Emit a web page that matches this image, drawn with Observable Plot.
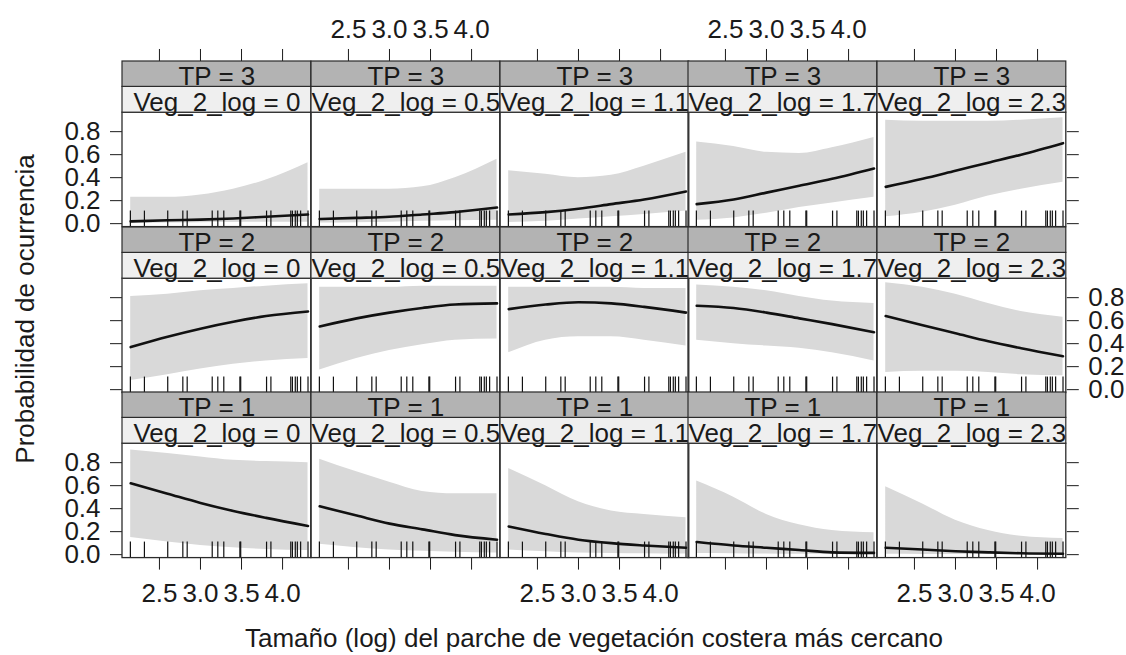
<!DOCTYPE html>
<html><head><meta charset="utf-8">
<script src="https://cdn.jsdelivr.net/npm/d3@7"></script>
<script src="https://cdn.jsdelivr.net/npm/@observablehq/plot@0.6"></script>
<style>
html,body{margin:0;padding:0;background:#fff;}
#chart{position:relative;width:1126px;height:655px;overflow:hidden;font-family:"Liberation Sans",Arial,sans-serif;color:#1a1a1a;}
#chart svg{max-width:none !important;}
#chart svg text{font-family:"Liberation Sans",Arial,sans-serif;}
.panel{position:absolute;}
.title{position:absolute;font-size:26px;line-height:26px;white-space:nowrap;text-align:center;}
</style></head><body><div id="chart"></div>
<script>
// ---- data ----
const xTicks = [2.5, 3.0, 3.5, 4.0];
const yTicks = [0, 0.2, 0.4, 0.6, 0.8];
const tpLevels = [3, 2, 1];
const vegLevels = ["0", "0.5", "1.1", "1.7", "2.3"];
const xGrid = [2.15, 2.6, 3.0, 3.4, 3.8, 4.31];
const rugX = [2.146, 2.317, 2.601, 2.785, 2.838, 3.143, 3.211, 3.284, 3.48, 3.49, 3.805, 3.858, 4.10, 4.12, 4.155, 4.18, 4.22, 4.31];

const fitTP3 = [
  [0.02, 0.03, 0.035, 0.045, 0.06, 0.08],
  [0.04, 0.05, 0.06, 0.08, 0.10, 0.14],
  [0.08, 0.10, 0.13, 0.17, 0.21, 0.28],
  [0.17, 0.21, 0.27, 0.33, 0.39, 0.48],
  [0.32, 0.39, 0.46, 0.53, 0.60, 0.70]];
const upperTP3 = [
  [0.23, 0.23, 0.25, 0.30, 0.38, 0.53],
  [0.30, 0.30, 0.30, 0.32, 0.40, 0.56],
  [0.46, 0.43, 0.40, 0.42, 0.50, 0.62],
  [0.71, 0.67, 0.62, 0.61, 0.66, 0.75],
  [0.90, 0.89, 0.89, 0.89, 0.90, 0.92]];
const lowerTP3 = [
  [0.003, 0.005, 0.008, 0.01, 0.012, 0.012],
  [0.005, 0.008, 0.012, 0.02, 0.025, 0.03],
  [0.01, 0.02, 0.04, 0.06, 0.08, 0.11],
  [0.03, 0.05, 0.09, 0.14, 0.18, 0.23],
  [0.06, 0.10, 0.16, 0.24, 0.30, 0.36]];

const fitTP2 = [
  [0.37, 0.46, 0.53, 0.59, 0.64, 0.68],
  [0.55, 0.62, 0.67, 0.71, 0.74, 0.75],
  [0.70, 0.74, 0.76, 0.75, 0.72, 0.67],
  [0.73, 0.71, 0.67, 0.62, 0.57, 0.50],
  [0.64, 0.56, 0.49, 0.42, 0.36, 0.29]];
const upperTP2 = [
  [0.81, 0.83, 0.86, 0.88, 0.90, 0.92],
  [0.89, 0.89, 0.89, 0.90, 0.90, 0.90],
  [0.89, 0.89, 0.89, 0.89, 0.88, 0.88],
  [0.91, 0.89, 0.86, 0.81, 0.77, 0.75],
  [0.93, 0.89, 0.83, 0.75, 0.68, 0.63]];
const lowerTP2 = [
  [0.08, 0.13, 0.18, 0.22, 0.25, 0.27],
  [0.17, 0.27, 0.34, 0.39, 0.43, 0.44],
  [0.32, 0.43, 0.46, 0.46, 0.43, 0.38],
  [0.43, 0.40, 0.38, 0.36, 0.32, 0.25],
  [0.15, 0.16, 0.16, 0.15, 0.13, 0.12]];

const fitTP1 = [
  [0.62, 0.53, 0.45, 0.38, 0.32, 0.25],
  [0.42, 0.34, 0.27, 0.22, 0.17, 0.13],
  [0.245, 0.18, 0.13, 0.10, 0.08, 0.06],
  [0.11, 0.08, 0.06, 0.04, 0.02, 0.015],
  [0.06, 0.045, 0.03, 0.02, 0.012, 0.008]];
const upperTP1 = [
  [0.91, 0.88, 0.85, 0.82, 0.81, 0.80],
  [0.83, 0.72, 0.63, 0.55, 0.53, 0.53],
  [0.75, 0.60, 0.46, 0.38, 0.35, 0.32],
  [0.64, 0.50, 0.35, 0.26, 0.21, 0.19],
  [0.59, 0.44, 0.30, 0.21, 0.16, 0.14]];
const lowerTP1 = [
  [0.15, 0.11, 0.08, 0.06, 0.045, 0.035],
  [0.09, 0.06, 0.04, 0.03, 0.02, 0.015],
  [0.04, 0.025, 0.015, 0.01, 0.008, 0.005],
  [0.01, 0.008, 0.005, 0.003, 0.002, 0.001],
  [0.003, 0.002, 0.002, 0.001, 0.001, 0.001]];

const xTitle = "Tamaño (log) del parche de vegetación costera más cercano";
const yTitle = "Probabilidad de ocurrencia";

// ---- layout ----
const fits = [fitTP3, fitTP2, fitTP1];
const uppers = [upperTP3, upperTP2, upperTP1];
const lowers = [lowerTP3, lowerTP2, lowerTP1];

const L0 = 122, T0 = 61, cellW = 188.8, cellH = 165.6;
const tpH = 25.4, vegH = 25.8;
const plotH = cellH - tpH - vegH;
const xDom = [2.05, 4.35];
const yLo = -0.03, yHi = 0.965;
const k = plotH / (yHi - yLo);
const yVegTop = yHi + vegH / k;
const yTop = yVegTop + tpH / k;
const rugTop = yLo + 16 / k;
const xMid = (xDom[0] + xDom[1]) / 2;
const M = {l: 70, r: 70, t: 60, b: 60};
const FONT = "'Liberation Sans', Arial, sans-serif";

const chart = document.getElementById("chart");
const fmt = d => d.toFixed(1);
const blank = () => "";

tpLevels.forEach((tp, r) => {
  vegLevels.forEach((veg, c) => {
    const data = xGrid.map((x, i) => ({x, fit: fits[r][c][i], lo: lowers[r][c][i], hi: uppers[r][c][i]}));
    const xAxis = r === 0 ? "top" : r === 2 ? "bottom" : null;
    const xLab = (r === 0 && c % 2 === 1) || (r === 2 && c % 2 === 0);
    const yAxis = c === 0 ? "left" : c === 4 ? "right" : null;
    const yLab = (c === 0 && r !== 1) || (c === 4 && r === 1);
    const W = cellW + M.l + M.r, H = cellH + M.t + M.b;
    const svg = Plot.plot({
      width: W,
      height: H,
      marginLeft: M.l, marginRight: M.r, marginTop: M.t, marginBottom: M.b,
      style: {background: "transparent", overflow: "visible", fontSize: "26px", fontFamily: FONT, color: "#1a1a1a", maxWidth: "none"},
      x: {domain: xDom, axis: xAxis, ticks: xTicks, tickSize: r === 0 ? 13 : 12, tickPadding: r === 0 ? 10 : 13,
          tickFormat: xLab ? fmt : blank, label: null},
      y: {domain: [yLo, yTop], axis: yAxis, ticks: yTicks, tickSize: 12, tickPadding: 10,
          tickFormat: yLab ? fmt : blank, label: null},
      marks: [
        Plot.areaY(data, {x: "x", y1: "lo", y2: "hi", fill: "#d9d9d9", curve: "monotone-x"}),
        Plot.line(data, {x: "x", y: "fit", stroke: "#111", strokeWidth: 2.6, curve: "monotone-x"}),
        Plot.ruleX(rugX, {x: d => d, y1: yLo, y2: rugTop, stroke: "#111", strokeWidth: 1.2}),
        Plot.rect([0], {x1: xDom[0], x2: xDom[1], y1: yLo, y2: yHi, fill: "none", stroke: "#2b2b2b", strokeWidth: 1.3}),
        Plot.rect([0], {x1: xDom[0], x2: xDom[1], y1: yHi, y2: yVegTop, fill: "#efefef", stroke: "#2b2b2b", strokeWidth: 1.2}),
        Plot.rect([0], {x1: xDom[0], x2: xDom[1], y1: yVegTop, y2: yTop, fill: "#b3b3b3", stroke: "#2b2b2b", strokeWidth: 1.2}),
        Plot.text([`TP = ${tp}`], {x: xMid, y: (yVegTop + yTop) / 2 - 2 / k, text: d => d, fontSize: 26, fill: "#1a1a1a"}),
        Plot.text([`Veg_2_log = ${veg}`], {x: xMid, y: (yHi + yVegTop) / 2 - 2.5 / k, text: d => d, fontSize: 26, fill: "#1a1a1a"})
      ]
    });
    const div = document.createElement("div");
    div.className = "panel";
    div.style.left = (L0 + c * cellW - M.l) + "px";
    div.style.top = (T0 + r * cellH - M.t) + "px";
    div.style.width = W + "px";
    div.style.height = H + "px";
    div.appendChild(svg);
    chart.appendChild(div);
  });
});

const xt = document.createElement("div");
xt.className = "title";
xt.textContent = xTitle;
xt.style.width = "900px";
xt.style.left = (L0 + 2.5 * cellW - 450) + "px";
xt.style.top = "625px";
chart.appendChild(xt);

const yt = document.createElement("div");
yt.className = "title";
yt.textContent = yTitle;
yt.style.width = "400px";
yt.style.left = (25 - 200) + "px";
yt.style.top = (T0 + 1.5 * cellH - 13) + "px";
yt.style.transform = "rotate(-90deg)";
chart.appendChild(yt);
</script></body></html>
